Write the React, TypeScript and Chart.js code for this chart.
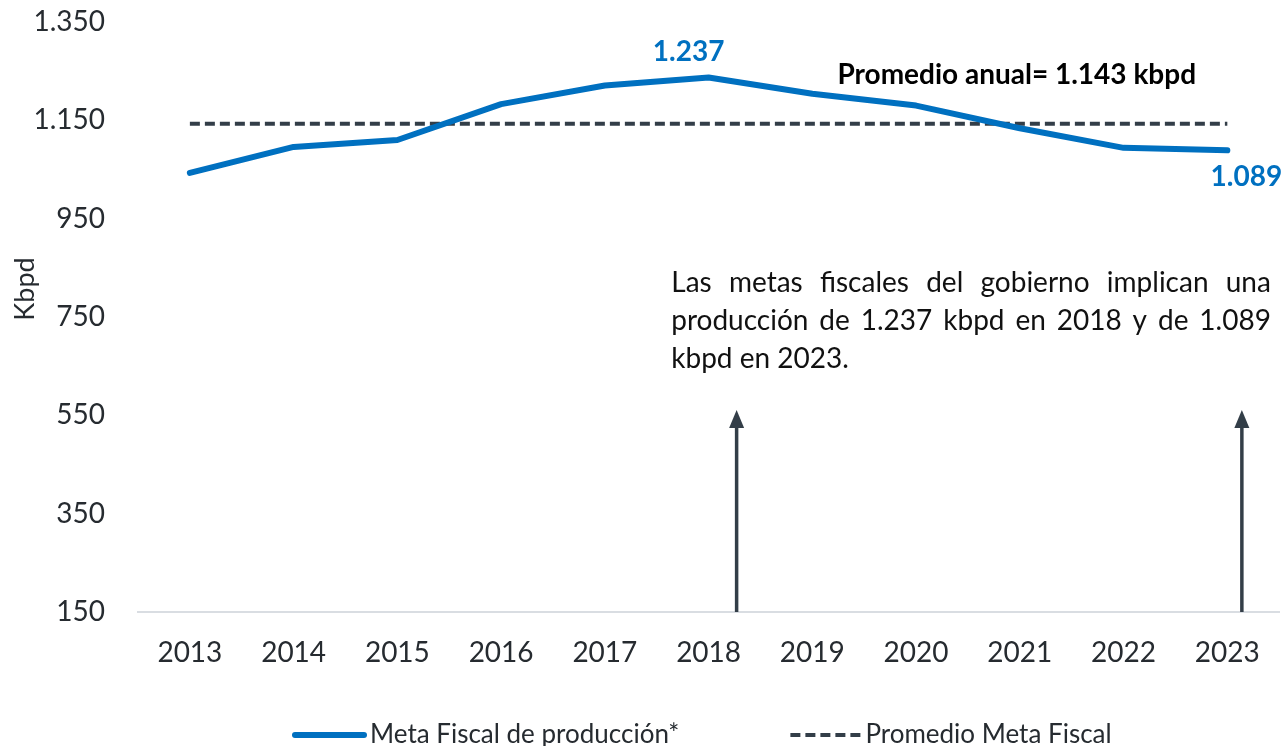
import React, { useEffect, useRef } from 'react';
import { Chart, registerables } from 'chart.js';

Chart.register(...registerables);

const FONT = 'Lato, "Open Sans", sans-serif';
const TEXT_COLOR = '#262b30';
const BLUE = '#0070C0';
const SLATE = '#333e48';

const years = ['2013', '2014', '2015', '2016', '2017', '2018', '2019', '2020', '2021', '2022', '2023'];
const metaFiscal = [1043, 1096, 1110, 1183, 1221, 1237, 1204, 1180, 1134, 1094, 1089];
const promedioSerie = [1143, 1143, 1143, 1143, 1143, 1143, 1143, 1143, 1143, 1143, 1143];
const promedioAnual = 1143;
const yTicks = [150, 350, 550, 750, 950, 1150, 1350];
const seriesLabels = ['Meta Fiscal de producción*', 'Promedio Meta Fiscal'];
const yTitle = 'Kbpd';
const noteLines = [
  'Las metas fiscales del gobierno implican una',
  'producción de 1.237 kbpd en 2018 y de 1.089',
  'kbpd en 2023.',
];
// arrows point at these years (category index with small offset) up to this value
const arrowPositions = [5.27, 10.14];
const arrowTopValue = 561;

const fmt = (n: number) => String(n).replace(/\B(?=(\d{3})+(?!\d))/g, '.');

const overlayPlugin = {
  id: 'overlay',
  afterDatasetsDraw(chart: any) {
    const ctx: CanvasRenderingContext2D = chart.ctx;
    const xs = chart.scales.x;
    const ys = chart.scales.y;
    ctx.save();

    // arrows
    const base = ys.getPixelForValue(yTicks[0]);
    const tip = ys.getPixelForValue(arrowTopValue);
    arrowPositions.forEach((p) => {
      const x = xs.getPixelForValue(p);
      ctx.strokeStyle = SLATE;
      ctx.fillStyle = SLATE;
      ctx.lineWidth = 3.5;
      ctx.beginPath();
      ctx.moveTo(x, base);
      ctx.lineTo(x, tip + 16);
      ctx.stroke();
      ctx.beginPath();
      ctx.moveTo(x, tip);
      ctx.lineTo(x - 7.5, tip + 18);
      ctx.lineTo(x + 7.5, tip + 18);
      ctx.closePath();
      ctx.fill();
    });

    // data labels
    const meta = chart.getDatasetMeta(0);
    ctx.font = `bold 28px ${FONT}`;
    ctx.fillStyle = BLUE;
    ctx.textAlign = 'center';
    ctx.textBaseline = 'middle';
    const p5 = meta.data[5];
    ctx.fillText(fmt(metaFiscal[5]), p5.x - 20, p5.y - 26);
    const p10 = meta.data[10];
    ctx.fillText(fmt(metaFiscal[10]), p10.x + 19, p10.y + 27);

    // promedio annotation
    ctx.fillStyle = '#000';
    ctx.font = `bold 28px ${FONT}`;
    ctx.fillText(`Promedio anual= ${fmt(promedioAnual)} kbpd`, xs.getPixelForValue(7.97), ys.getPixelForValue(1242));

    // note text (justified)
    ctx.font = `28px ${FONT}`;
    ctx.fillStyle = '#111';
    ctx.textAlign = 'left';
    const left = xs.getPixelForValue(4.64);
    const right = xs.getPixelForValue(10.42);
    const y0 = ys.getPixelForValue(819);
    noteLines.forEach((line, i) => {
      const y = y0 + i * 38;
      if (i === noteLines.length - 1) {
        ctx.fillText(line, left, y);
        return;
      }
      const words = line.split(' ');
      const widths = words.map((w) => ctx.measureText(w).width);
      const total = widths.reduce((a, b) => a + b, 0);
      const gap = (right - left - total) / (words.length - 1);
      let x = left;
      words.forEach((w, j) => {
        ctx.fillText(w, x, y);
        x += widths[j] + gap;
      });
    });

    // y title
    ctx.save();
    ctx.translate(25, 289);
    ctx.rotate(-Math.PI / 2);
    ctx.font = `27px ${FONT}`;
    ctx.fillStyle = TEXT_COLOR;
    ctx.textAlign = 'center';
    ctx.fillText(yTitle, 0, 0);
    ctx.restore();

    // legend
    const ly = 735;
    ctx.font = `26px ${FONT}`;
    ctx.textAlign = 'left';
    ctx.fillStyle = TEXT_COLOR;
    const ds = chart.data.datasets;
    let x = 292;
    // item 1
    ctx.strokeStyle = ds[0].borderColor;
    ctx.lineWidth = 6;
    ctx.lineCap = 'round';
    ctx.setLineDash([]);
    ctx.beginPath();
    ctx.moveTo(x + 3, ly);
    ctx.lineTo(x + 72, ly);
    ctx.stroke();
    x += 78;
    ctx.fillText(ds[0].label, x, ly);
    x += ctx.measureText(ds[0].label).width + 111;
    // item 2
    ctx.strokeStyle = ds[1].borderColor;
    ctx.lineWidth = 4;
    ctx.lineCap = 'butt';
    ctx.setLineDash(ds[1].borderDash);
    ctx.beginPath();
    ctx.moveTo(x, ly);
    ctx.lineTo(x + 70, ly);
    ctx.stroke();
    ctx.setLineDash([]);
    x += 75;
    ctx.fillText(ds[1].label, x, ly);

    ctx.restore();
  },
};

export default function App() {
  const ref = useRef<HTMLCanvasElement | null>(null);

  useEffect(() => {
    document.body.style.margin = '0';
    if (!ref.current) return;
    Chart.defaults.font.family = FONT;
    const chart = new Chart(ref.current, {
      type: 'line',
      data: {
        labels: years,
        datasets: [
          {
            label: seriesLabels[0],
            data: metaFiscal,
            borderColor: BLUE,
            backgroundColor: BLUE,
            borderWidth: 6,
            pointRadius: 0,
            tension: 0,
            borderCapStyle: 'round',
            borderJoinStyle: 'round',
          },
          {
            label: seriesLabels[1],
            data: promedioSerie,
            borderColor: SLATE,
            backgroundColor: SLATE,
            borderWidth: 4,
            borderDash: [10, 5],
            pointRadius: 0,
            tension: 0,
          },
        ],
      },
      options: {
        animation: false,
        responsive: true,
        maintainAspectRatio: false,
        layout: { padding: { top: 22, right: 4, bottom: 0, left: 0 } },
        plugins: {
          legend: { display: false },
          tooltip: { enabled: false },
        },
        scales: {
          x: {
            offset: true,
            grid: { display: false, drawTicks: false },
            border: { display: true, color: '#d9dde2', width: 2 },
            ticks: { color: TEXT_COLOR, font: { size: 28, family: FONT }, padding: 24, maxRotation: 0 },
            afterFit: (scale: any) => {
              scale.height = 134;
            },
          },
          y: {
            min: yTicks[0],
            max: yTicks[yTicks.length - 1],
            grid: { display: false, drawTicks: false },
            border: { display: false },
            afterBuildTicks: (scale: any) => {
              scale.ticks = yTicks.map((v) => ({ value: v }));
            },
            ticks: {
              color: TEXT_COLOR,
              font: { size: 28, family: FONT },
              padding: 33,
              callback: (v: any) => fmt(Number(v)),
            },
            afterFit: (scale: any) => {
              scale.width = 138;
              scale.paddingTop = 0;
              scale.paddingBottom = 0;
            },
          },
        },
      },
      plugins: [overlayPlugin],
    });
    return () => chart.destroy();
  }, []);

  return (
    <div style={{ position: 'fixed', left: 0, top: 0, width: 1284, height: 746 }}>
      <canvas ref={ref} />
    </div>
  );
}
